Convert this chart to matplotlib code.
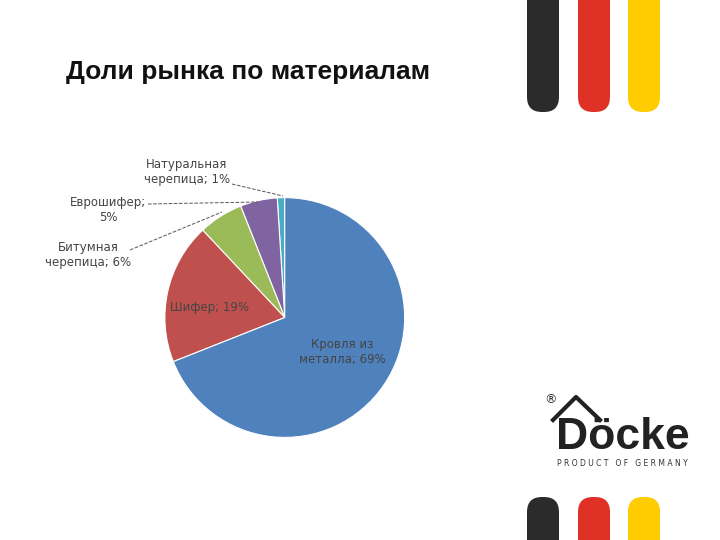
import matplotlib.pyplot as plt
from matplotlib.patches import FancyBboxPatch

# data
labels = ['Натуральная\nчерепица; 1%', 'Еврошифер;\n5%', 'Битумная\nчерепица; 6%',
          'Шифер; 19%', 'Кровля из\nметалла; 69%']
values = [1, 5, 6, 19, 69]
colors = ['#4BACC6', '#8064A2', '#9BBB59', '#C0504D', '#4F81BD']

plt.rcParams['font.family'] = ['DejaVu Sans']
fig = plt.figure(figsize=(7.2, 5.4), dpi=100)

# pie
ax = fig.add_axes([0.229, 0.19, 0.333, 0.444])
ax.pie(values, colors=colors, startangle=90, counterclock=True, radius=1,
       wedgeprops=dict(edgecolor='white', linewidth=0.8))
ax.set_xlim(-1, 1)
ax.set_ylim(-1, 1)
ax.set_aspect('equal')

# overlay layer in pixel coords
bg = fig.add_axes([0, 0, 1, 1])
bg.set_zorder(2)
bg.patch.set_alpha(0)
bg.set_xlim(0, 720)
bg.set_ylim(540, 0)
bg.set_axis_off()

# decorative stripes
for x0, c in [(527, '#2B2B2B'), (578, '#E03127'), (628, '#FFCC00')]:
    bg.add_patch(FancyBboxPatch((x0, -40), 32, 152, boxstyle='round,pad=0,rounding_size=15',
                                fc=c, ec='none'))
    bg.add_patch(FancyBboxPatch((x0, 497), 32, 80, boxstyle='round,pad=0,rounding_size=15',
                                fc=c, ec='none'))

bg.text(66, 72, 'Доли рынка по материалам', fontsize=19, fontweight='bold',
        family='Liberation Sans', ha='left', va='center', color='#111111')

# logo
bg.text(556, 449, 'Döcke', fontsize=32, fontweight='bold', family='Liberation Sans',
        ha='left', va='baseline', color='#222222')
bg.plot([553, 576, 600], [420, 397, 420], color='#222222', lw=3)
bg.text(557, 463, 'P R O D U C T   O F   G E R M A N Y', fontsize=5.5, ha='left',
        va='center', color='#333333')
bg.text(550, 400, '®', fontsize=9, ha='center', va='center', color='#333333')

tc = '#444444'
bg.text(187, 172, labels[0], fontsize=8.5, ha='center', va='center', color=tc)
bg.plot([232, 283], [184, 196], color='#555555', lw=0.7, ls='--')
bg.text(108, 210, labels[1], fontsize=8.5, ha='center', va='center', color=tc)
bg.plot([148, 258], [204, 202], color='#555555', lw=0.7, ls='--')
bg.text(88, 255, labels[2], fontsize=8.5, ha='center', va='center', color=tc)
bg.plot([130, 222], [250, 212], color='#555555', lw=0.7, ls='--')
bg.text(210, 307, labels[3], fontsize=8.5, ha='center', va='center', color=tc)
bg.text(342, 352, labels[4], fontsize=8.5, ha='center', va='center', color=tc)

fig.savefig('out.png', dpi=100)
